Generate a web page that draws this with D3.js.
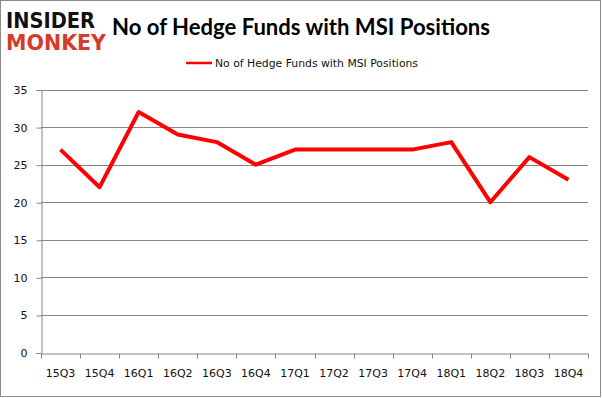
<!DOCTYPE html>
<html>
<head>
<meta charset="utf-8">
<script src="https://cdn.jsdelivr.net/npm/d3@7"></script>
<style>
  body { margin: 0; background: #fff; }
  svg { display: block; }
</style>
</head>
<body>
<svg id="chart" width="602" height="398"></svg>
<script>
// 데이터
const quarters = ["15Q3","15Q4","16Q1","16Q2","16Q3","16Q4","17Q1","17Q2","17Q3","17Q4","18Q1","18Q2","18Q3","18Q4"];
const funds = [27, 22, 32, 29, 28, 25, 27, 27, 27, 27, 28, 20, 26, 23];
const yTicks = [0, 5, 10, 15, 20, 25, 30, 35];
const seriesName = "No of Hedge Funds with MSI Positions";

const W = 602, H = 398;
const plot = { left: 41, right: 588, top: 89.5, bottom: 352.5 };
const FONT = "'DejaVu Sans', sans-serif";

const svg = d3.select("#chart");

// 바깥 테두리
svg.append("rect")
  .attr("x", 0.5).attr("y", 0.5).attr("width", W - 2).attr("height", H - 2)
  .attr("fill", "#fff").attr("stroke", "#8c8c8c").attr("stroke-width", 1);

// 로고
svg.append("text").attr("x", 6).attr("y", 28)
  .attr("font-family", FONT).attr("font-weight", "bold").attr("font-size", 21)
  .attr("fill", "#111").attr("textLength", 89).attr("lengthAdjust", "spacingAndGlyphs")
  .text("INSIDER");
svg.append("text").attr("x", 6).attr("y", 50)
  .attr("font-family", FONT).attr("font-weight", "bold").attr("font-size", 21)
  .attr("fill", "#d63a2a").attr("textLength", 100).attr("lengthAdjust", "spacingAndGlyphs")
  .text("MONKEY");

// 제목
svg.append("text").attr("x", 112).attr("y", 35)
  .attr("font-family", "Lato, 'Open Sans', sans-serif").attr("font-weight", "bold").attr("font-size", 22)
  .attr("fill", "#000").attr("textLength", 378).attr("lengthAdjust", "spacingAndGlyphs")
  .text(seriesName);

// 스케일
const x = d3.scaleBand().domain(quarters).range([plot.left, plot.right]);
const y = d3.scaleLinear().domain([0, 35]).range([plot.bottom, plot.top]);

// 그리드
svg.append("g").selectAll("line").data(yTicks.filter(d => d > 0)).join("line")
  .attr("x1", plot.left).attr("x2", plot.right)
  .attr("y1", d => Math.round(y(d)) + 0.5).attr("y2", d => Math.round(y(d)) + 0.5)
  .attr("stroke", "#878787").attr("stroke-width", 1);

// y축
const yAxis = svg.append("g")
  .attr("transform", `translate(${plot.left + 0.5},0.5)`)
  .call(d3.axisLeft(y).tickValues(yTicks).tickSize(5).tickPadding(9));
yAxis.select(".domain").attr("stroke", "#878787");
yAxis.selectAll(".tick line").attr("stroke", "#878787");
yAxis.selectAll("text").attr("font-family", FONT).attr("font-size", 11).attr("fill", "#111");

// x축
const xAxis = svg.append("g")
  .attr("transform", `translate(0,${Math.round(plot.bottom) + 0.5})`)
  .call(d3.axisBottom(x).tickSize(0).tickPadding(16));
xAxis.select(".domain").attr("stroke", "#878787");
xAxis.selectAll("text").attr("font-family", FONT).attr("font-size", 11).attr("fill", "#111");
// 구간 경계 눈금
xAxis.append("g").selectAll("line").data(quarters.concat(["end"])).join("line")
  .attr("x1", (d, i) => Math.round(plot.left + i * x.bandwidth()) + 0.5)
  .attr("x2", (d, i) => Math.round(plot.left + i * x.bandwidth()) + 0.5)
  .attr("y1", 0).attr("y2", 5).attr("stroke", "#878787");

// 선
const line = d3.line()
  .x((d, i) => x(quarters[i]) + x.bandwidth() / 2)
  .y(d => y(d));
svg.append("path").datum(funds)
  .attr("d", line).attr("fill", "none")
  .attr("stroke", "#ff0000").attr("stroke-width", 4)
  .attr("stroke-linejoin", "round");

// 범례
svg.append("line").attr("x1", 186).attr("x2", 212).attr("y1", 63).attr("y2", 63)
  .attr("stroke", "#ff0000").attr("stroke-width", 2.5);
svg.append("text").attr("x", 215).attr("y", 67)
  .attr("font-family", FONT).attr("font-size", 11).attr("fill", "#111")
  .attr("textLength", 203).attr("lengthAdjust", "spacingAndGlyphs")
  .text(seriesName);
</script>
</body>
</html>
